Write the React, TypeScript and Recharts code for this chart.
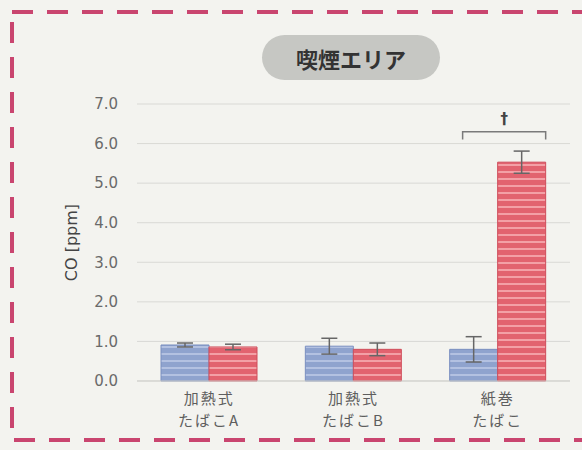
import React from 'react';
import { ComposedChart, Bar, XAxis, YAxis, CartesianGrid, ErrorBar, LabelList } from 'recharts';

const categories = [['加熱式', 'たばこA'], ['加熱式', 'たばこB'], ['紙巻', 'たばこ']];
const blueValues = [0.91, 0.88, 0.8];
const blueErrors = [0.05, 0.2, 0.32];
const redValues = [0.86, 0.8, 5.53];
const redErrors = [0.07, 0.16, 0.28];
const significance = ['', '', '†'];
const yTicks = [0, 1, 2, 3, 4, 5, 6, 7];
const title = '喫煙エリア';
const yLabel = 'CO [ppm]';
const bracketLevel = 6.3;
const bracketDropLevel = 6.1;
const markLevel = 6.6;

const data = categories.map((c, i) => ({
  name: c.join('\n'),
  blue: blueValues[i],
  blueErr: blueErrors[i],
  red: redValues[i],
  redErr: redErrors[i],
  mark: significance[i],
}));

const FONT = '"Noto Sans CJK JP", "Noto Sans", sans-serif';
const NUMFONT = '"DejaVu Sans", Verdana, sans-serif';

const XTick = (props: any) => {
  const { x, y, payload } = props;
  const lines = String(payload.value).split('\n');
  return (
    <g transform={`translate(${x},${y})`}>
      {lines.map((l, i) => (
        <text key={i} x={0} y={i * 22} dy={15} textAnchor="middle" fill="#5e5e5e" fontSize={15} letterSpacing={2} fontFamily={FONT}>
          {l}
        </text>
      ))}
    </g>
  );
};

const Bracket = (props: any) => {
  const vb = props.viewBox || props;
  const i = props.index;
  const mark = significance[i];
  if (!mark) return null;
  const v = redValues[i];
  const base = vb.y + vb.height;
  const ppu = vb.height / v;
  const yB = base - bracketLevel * ppu;
  const yD = base - bracketDropLevel * ppu;
  const yM = base - markLevel * ppu;
  const left = vb.x - vb.width + vb.width * 0.27;
  const right = vb.x + vb.width;
  const mid = (left + right) / 2;
  return (
    <g>
      <path d={`M${left},${yD} L${left},${yB} L${right},${yB} L${right},${yD}`} fill="none" stroke="#7a7a7a" strokeWidth={1.5} />
      <text x={mid} y={yM} textAnchor="middle" dominantBaseline="middle" fill="#444" fontSize={15} fontWeight={700} fontFamily={NUMFONT}>
        {mark}
      </text>
    </g>
  );
};

export default function App() {
  return (
    <div style={{ position: 'absolute', left: 0, top: 0, width: 582, height: 450, background: '#f3f3ef', overflow: 'hidden' }}>
      <svg width={582} height={450} style={{ position: 'absolute', left: 0, top: 0 }}>
        <rect x={12} y={12} width={620} height={428} fill="none" stroke="#c9456f" strokeWidth={4} strokeDasharray="21 14" />
      </svg>
      <div
        style={{
          position: 'absolute', left: 262, top: 35, width: 178, height: 45, borderRadius: 23,
          background: '#c6c7c3', display: 'flex', alignItems: 'center', justifyContent: 'center',
          fontFamily: FONT, fontWeight: 700, fontSize: 22, color: '#333',
        }}
      >
        {title}
      </div>
      <div style={{ position: 'absolute', left: 0, top: 0 }}>
        <ComposedChart
          width={582}
          height={450}
          data={data}
          margin={{ top: 104, right: 12, left: 60, bottom: 9 }}
          barGap={0}
          barSize={48}
        >
          <defs>
            <pattern id="blueStripe" patternUnits="userSpaceOnUse" width={10} height={7}>
              <rect width={10} height={7} fill="#8fa3ce" />
              <rect y={3} width={10} height={2} fill="#b3c1e1" />
            </pattern>
            <pattern id="redStripe" patternUnits="userSpaceOnUse" width={10} height={7}>
              <rect width={10} height={7} fill="#e2636f" />
              <rect y={3} width={10} height={2} fill="#f3a0a6" />
            </pattern>
          </defs>
          <CartesianGrid vertical={false} stroke="#d9d9d5" />
          <XAxis dataKey="name" tick={<XTick />} tickLine={false} axisLine={{ stroke: '#cfcfcb' }} height={60} interval={0} />
          <YAxis
            domain={[0, 7]}
            ticks={yTicks}
            width={77}
            axisLine={false}
            tickLine={false}
            tickSize={0}
            tickMargin={19}
            tickFormatter={(v: number) => v.toFixed(1)}
            tick={{ fill: '#6a6a6a', fontSize: 15, fontFamily: NUMFONT }}
            label={{
              content: (p: any) => {
                const vb = p.viewBox;
                const cx = 72;
                const cy = vb.y + vb.height / 2;
                return (
                  <text x={cx} y={cy} transform={`rotate(-90 ${cx} ${cy})`} textAnchor="middle" dominantBaseline="middle" fill="#444" fontSize={16} fontFamily={NUMFONT}>
                    {yLabel}
                  </text>
                );
              },
            }}
          />
          <Bar dataKey="blue" fill="url(#blueStripe)" stroke="#7a8fc0" strokeWidth={1} isAnimationActive={false}>
            <ErrorBar dataKey="blueErr" width={8} stroke="#666" strokeWidth={1.5} />
          </Bar>
          <Bar dataKey="red" fill="url(#redStripe)" stroke="#cf4d5b" strokeWidth={1} isAnimationActive={false}>
            <ErrorBar dataKey="redErr" width={8} stroke="#666" strokeWidth={1.5} />
            <LabelList dataKey="mark" content={<Bracket />} />
          </Bar>
        </ComposedChart>
      </div>
    </div>
  );
}
